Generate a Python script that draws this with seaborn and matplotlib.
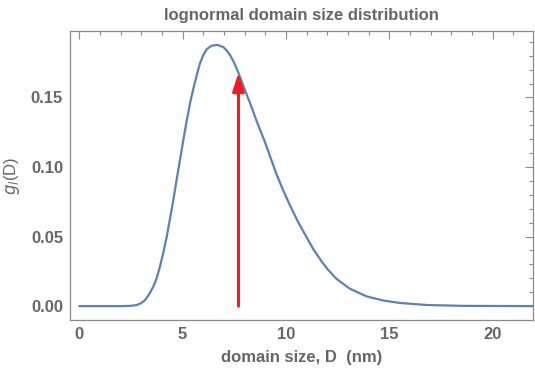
import matplotlib
matplotlib.use("Agg")
import matplotlib.pyplot as plt
import seaborn as sns
import pandas as pd
from matplotlib.ticker import MultipleLocator

# Values
domain_size = [0, 1, 2, 2.5, 2.78, 2.98, 3.18, 3.38, 3.58, 3.74, 3.90, 4.06, 4.23,
               4.39, 4.55, 4.71, 4.87, 5.04, 5.20, 5.36, 5.52, 5.68, 5.84, 6.00,
               6.16, 6.40, 6.68, 6.97, 7.13, 7.29, 7.49, 7.69, 7.97, 8.26, 8.58,
               8.98, 9.27, 9.55, 9.87, 10.19, 10.55, 10.92, 11.32, 11.73, 12.03,
               12.45, 13.09, 13.90, 14.71, 15.50, 16.81, 18.5, 20, 22]
g_l = [0, 0, 0.0, 0.0002, 0.0008, 0.0020, 0.0043, 0.0085, 0.0139, 0.0200, 0.0283,
       0.0380, 0.0499, 0.0630, 0.0763, 0.0910, 0.1050, 0.1200, 0.1335, 0.1460,
       0.1565, 0.1660, 0.1746, 0.1805, 0.1846, 0.1872, 0.1878, 0.1862, 0.1838,
       0.1806, 0.1750, 0.1680, 0.1570, 0.1460, 0.1330, 0.1180, 0.1060, 0.0945,
       0.0830, 0.0725, 0.0615, 0.0515, 0.0410, 0.0320, 0.0262, 0.0195, 0.0125,
       0.0070, 0.0040, 0.0023, 0.0008, 0.0002, 0.0001, 0.0]
arrow_x = 7.7
arrow_y_top = 0.168
x_ticks = [0, 5, 10, 15, 20]
y_ticks = [0.00, 0.05, 0.10, 0.15]

df = pd.DataFrame({"D": domain_size, "g": g_l})

sns.set_style("white")
plt.rcParams["font.family"] = ["Liberation Sans", "DejaVu Sans"]
text_col = "#666666"
frame_col = "#8a8a8a"

fig = plt.figure(figsize=(5.35, 3.73), dpi=100)
ax = fig.add_axes([0.1308, 0.142, 0.8655, 0.7757])

sns.lineplot(data=df, x="D", y="g", ax=ax, color="#5E81B5", linewidth=1.6)

ax.annotate("", xy=(arrow_x, arrow_y_top), xytext=(arrow_x, 0.0),
            arrowprops=dict(arrowstyle="-|>,head_length=1.1,head_width=0.35",
                            color="#ee1c25", lw=2.2, shrinkA=0, shrinkB=0))

ax.set_xlim(-0.45, 21.95)
ax.set_ylim(-0.010, 0.198)
ax.set_xticks(x_ticks)
ax.set_yticks(y_ticks)
ax.set_xticklabels([str(v) for v in x_ticks])
ax.set_yticklabels([f"{v:.2f}" for v in y_ticks])
ax.xaxis.set_minor_locator(MultipleLocator(1))
ax.yaxis.set_minor_locator(MultipleLocator(0.01))

for s in ax.spines.values():
    s.set_color(frame_col)
    s.set_linewidth(0.9)
ax.tick_params(which="both", direction="in", top=True, right=True,
               color=frame_col, width=0.8)
ax.tick_params(which="major", length=6, labelsize=12, labelcolor=text_col, pad=5)
ax.tick_params(which="minor", length=3)
for lab in ax.get_xticklabels() + ax.get_yticklabels():
    lab.set_fontweight("bold")

ax.set_xlabel("domain size, D  (nm)", fontsize=12, fontweight="bold",
              color=text_col, labelpad=6)
ax.set_ylabel(r"$g_l$(D)", fontsize=12, color=text_col, labelpad=6)
ax.set_title("lognormal domain size distribution", fontsize=12,
             fontweight="bold", color=text_col, pad=8)

fig.savefig("out.png", dpi=100)
